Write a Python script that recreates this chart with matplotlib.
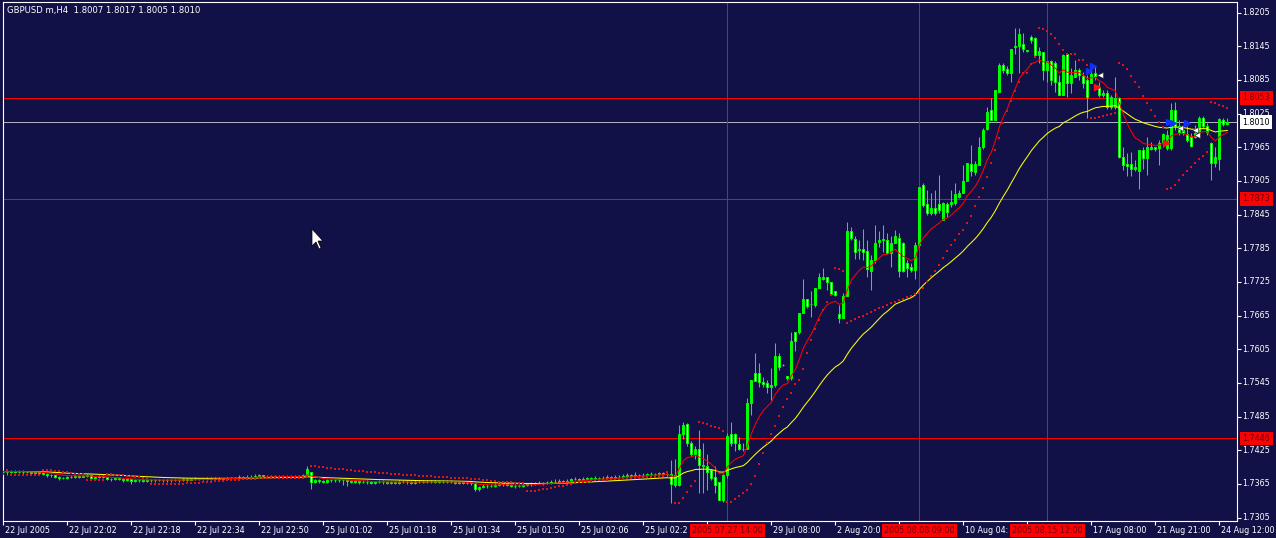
import numpy as np
import pandas as pd
import matplotlib
matplotlib.use('Agg')
import matplotlib.pyplot as plt
from matplotlib.patches import Polygon
from matplotlib.transforms import IdentityTransform

BG = '#111147'
LIME = '#00ff00'
FONT = 'DejaVu Sans'
FS = 5.8

# GBPUSD H4 bars (index 0 = leftmost bar)
opens = [
    1.7386, 1.7387, 1.7386, 1.7388, 1.7387, 1.7386, 1.7387, 1.7386, 1.7385, 1.7386,
    1.7385, 1.7383, 1.7381, 1.7380, 1.7378, 1.7376, 1.7375, 1.7377, 1.7378, 1.7379,
    1.7378, 1.7379, 1.7380, 1.7376, 1.7377, 1.7379, 1.7377, 1.7374, 1.7373, 1.7375,
    1.7374, 1.7372, 1.7373, 1.7370, 1.7371, 1.7372, 1.7370, 1.7371, 1.7372, 1.7371,
    1.7372, 1.7371, 1.7372, 1.7371, 1.7372, 1.7371, 1.7373, 1.7372, 1.7373, 1.7374,
    1.7373, 1.7374, 1.7374, 1.7375, 1.7374, 1.7375, 1.7374, 1.7375, 1.7376, 1.7375,
    1.7377, 1.7376, 1.7378, 1.7377, 1.7379, 1.7380, 1.7378, 1.7378, 1.7379, 1.7378,
    1.7378, 1.7379, 1.7378, 1.7379, 1.7378, 1.7379, 1.7380, 1.7386, 1.7369, 1.7371,
    1.7370, 1.7368, 1.7371, 1.7372, 1.7371, 1.7372, 1.7371, 1.7370, 1.7369, 1.7370,
    1.7368, 1.7369, 1.7368, 1.7367, 1.7368, 1.7369, 1.7368, 1.7367, 1.7368, 1.7367,
    1.7368, 1.7369, 1.7368, 1.7367, 1.7368, 1.7369, 1.7369, 1.7368, 1.7369, 1.7370,
    1.7369, 1.7368, 1.7369, 1.7368, 1.7367, 1.7368, 1.7367, 1.7366, 1.7366, 1.7355,
    1.7360, 1.7362, 1.7361, 1.7362, 1.7363, 1.7364, 1.7366, 1.7363, 1.7362, 1.7361,
    1.7362, 1.7363, 1.7364, 1.7365, 1.7366, 1.7367, 1.7366, 1.7367, 1.7368, 1.7369,
    1.7370, 1.7369, 1.7370, 1.7373, 1.7374, 1.7372, 1.7374, 1.7375, 1.7374, 1.7376,
    1.7375, 1.7376, 1.7377, 1.7376, 1.7377, 1.7378, 1.7379, 1.7380, 1.7379, 1.7381,
    1.7380, 1.7381, 1.7382, 1.7383, 1.7382, 1.7384, 1.7383,
    1.7382, 1.7363, 1.7363, 1.7453, 1.7472, 1.7437, 1.7419, 1.7427, 1.7399, 1.7396,
    1.7389, 1.7378, 1.7369, 1.7337, 1.7380, 1.7453, 1.7453, 1.7436, 1.7427, 1.7428,
    1.7510, 1.7562, 1.7562, 1.7547, 1.7544, 1.7537, 1.7541, 1.7593, 1.7577, 1.7557,
    1.7553, 1.7636, 1.7635, 1.7669, 1.7695, 1.7686, 1.7684, 1.7715, 1.7731, 1.7733,
    1.7725, 1.7708, 1.7668, 1.7660, 1.7699, 1.7815, 1.7801, 1.7781, 1.7783, 1.7780,
    1.7745, 1.7764, 1.7797, 1.7799, 1.7799, 1.7776, 1.7795, 1.7804, 1.7794, 1.7759,
    1.7751, 1.7746, 1.7790, 1.7897, 1.7864, 1.7847, 1.7856, 1.7864, 1.7836, 1.7864,
    1.7864, 1.7865, 1.7877, 1.7883, 1.7905, 1.7935, 1.7920, 1.7934, 1.7965, 1.7997,
    1.8031, 1.8014, 1.8064, 1.8112, 1.8104, 1.8098, 1.8145, 1.8145, 1.8149, 1.8138,
    1.8161, 1.8159, 1.8129, 1.8134, 1.8103, 1.8118, 1.8116, 1.8082, 1.8058, 1.8132,
    1.8079, 1.8091, 1.8103, 1.8092, 1.8085, 1.8080, 1.8097, 1.8073, 1.8058, 1.8061,
    1.8037, 1.8036, 1.8052, 1.7947, 1.7935, 1.7935, 1.7926, 1.7922, 1.7960, 1.7945,
    1.7961, 1.7965, 1.7963, 1.7972, 1.7963, 1.7963, 1.8031, 1.8002, 1.7996, 1.7989,
    1.7984, 1.7984, 1.7990, 1.8017, 1.8003, 1.7972, 1.7937, 1.7944, 1.8014, 1.8007,
]

highs = [
    1.7389, 1.7389, 1.7390, 1.7389, 1.7389, 1.7390, 1.7388, 1.7388, 1.7388, 1.7387,
    1.7386, 1.7384, 1.7383, 1.7381, 1.7379, 1.7378, 1.7379, 1.7380, 1.7381, 1.7381,
    1.7381, 1.7382, 1.7381, 1.7379, 1.7381, 1.7380, 1.7378, 1.7376, 1.7377, 1.7376,
    1.7375, 1.7375, 1.7374, 1.7373, 1.7374, 1.7373, 1.7373, 1.7374, 1.7373, 1.7374,
    1.7373, 1.7374, 1.7373, 1.7374, 1.7373, 1.7375, 1.7375, 1.7375, 1.7378, 1.7376,
    1.7376, 1.7377, 1.7377, 1.7377, 1.7378, 1.7376, 1.7377, 1.7378, 1.7378, 1.7380,
    1.7379, 1.7380, 1.7380, 1.7382, 1.7383, 1.7381, 1.7380, 1.7381, 1.7380, 1.7380,
    1.7381, 1.7380, 1.7381, 1.7380, 1.7381, 1.7382, 1.7396, 1.7387, 1.7374, 1.7373,
    1.7372, 1.7373, 1.7374, 1.7374, 1.7374, 1.7373, 1.7373, 1.7372, 1.7372, 1.7371,
    1.7371, 1.7371, 1.7370, 1.7370, 1.7372, 1.7371, 1.7370, 1.7370, 1.7370, 1.7371,
    1.7371, 1.7371, 1.7370, 1.7371, 1.7372, 1.7371, 1.7371, 1.7372, 1.7372, 1.7372,
    1.7371, 1.7371, 1.7371, 1.7370, 1.7370, 1.7370, 1.7369, 1.7368, 1.7367, 1.7362,
    1.7364, 1.7364, 1.7365, 1.7366, 1.7367, 1.7368, 1.7367, 1.7365, 1.7364, 1.7365,
    1.7366, 1.7367, 1.7368, 1.7369, 1.7370, 1.7369, 1.7370, 1.7371, 1.7373, 1.7373,
    1.7372, 1.7373, 1.7375, 1.7377, 1.7375, 1.7378, 1.7378, 1.7377, 1.7379, 1.7378,
    1.7379, 1.7380, 1.7379, 1.7380, 1.7381, 1.7383, 1.7384, 1.7382, 1.7386, 1.7383,
    1.7385, 1.7385, 1.7387, 1.7385, 1.7387, 1.7386, 1.7385,
    1.7408, 1.7409, 1.7470, 1.7476, 1.7473, 1.7441, 1.7432, 1.7461, 1.7437, 1.7419,
    1.7392, 1.7396, 1.7369, 1.7382, 1.7455, 1.7475, 1.7455, 1.7449, 1.7437, 1.7518,
    1.7551, 1.7598, 1.7580, 1.7556, 1.7550, 1.7571, 1.7616, 1.7598, 1.7578, 1.7557,
    1.7636, 1.7636, 1.7669, 1.7731, 1.7695, 1.7708, 1.7715, 1.7740, 1.7749, 1.7733,
    1.7725, 1.7708, 1.7684, 1.7705, 1.7831, 1.7823, 1.7806, 1.7800, 1.7820, 1.7800,
    1.7773, 1.7826, 1.7816, 1.7826, 1.7812, 1.7806, 1.7818, 1.7812, 1.7797, 1.7764,
    1.7758, 1.7797, 1.7895, 1.7901, 1.7889, 1.7883, 1.7889, 1.7916, 1.7868, 1.7868,
    1.7889, 1.7901, 1.7889, 1.7934, 1.7937, 1.7969, 1.7940, 1.7984, 1.7999, 1.8037,
    1.8052, 1.8067, 1.8115, 1.8115, 1.8109, 1.8141, 1.8177, 1.8177, 1.8168, 1.8138,
    1.8165, 1.8162, 1.8144, 1.8135, 1.8118, 1.8121, 1.8118, 1.8094, 1.8132, 1.8132,
    1.8106, 1.8121, 1.8106, 1.8100, 1.8094, 1.8115, 1.8109, 1.8082, 1.8067, 1.8067,
    1.8058, 1.8091, 1.8055, 1.7966, 1.7954, 1.7957, 1.7942, 1.7960, 1.7966, 1.7984,
    1.7975, 1.7966, 1.7978, 1.7990, 1.7996, 1.8043, 1.8046, 1.8014, 1.8002, 1.8002,
    1.7990, 1.8005, 1.8020, 1.8020, 1.8008, 1.7975, 1.7966, 1.8017, 1.8017, 1.8017,
]

lows = [
    1.7383, 1.7380, 1.7384, 1.7385, 1.7384, 1.7383, 1.7384, 1.7382, 1.7383, 1.7383,
    1.7381, 1.7377, 1.7378, 1.7375, 1.7372, 1.7373, 1.7373, 1.7375, 1.7376, 1.7376,
    1.7377, 1.7377, 1.7374, 1.7374, 1.7376, 1.7375, 1.7371, 1.7370, 1.7371, 1.7372,
    1.7369, 1.7370, 1.7364, 1.7368, 1.7369, 1.7368, 1.7368, 1.7369, 1.7369, 1.7370,
    1.7369, 1.7369, 1.7369, 1.7370, 1.7369, 1.7370, 1.7370, 1.7371, 1.7371, 1.7371,
    1.7371, 1.7372, 1.7372, 1.7372, 1.7373, 1.7372, 1.7373, 1.7373, 1.7373, 1.7373,
    1.7374, 1.7375, 1.7375, 1.7376, 1.7377, 1.7376, 1.7376, 1.7377, 1.7376, 1.7376,
    1.7377, 1.7376, 1.7377, 1.7376, 1.7377, 1.7378, 1.7380, 1.7356, 1.7366, 1.7366,
    1.7366, 1.7366, 1.7369, 1.7369, 1.7369, 1.7363, 1.7361, 1.7367, 1.7367, 1.7365,
    1.7366, 1.7365, 1.7364, 1.7365, 1.7366, 1.7365, 1.7364, 1.7365, 1.7364, 1.7365,
    1.7366, 1.7365, 1.7364, 1.7365, 1.7366, 1.7367, 1.7366, 1.7366, 1.7367, 1.7367,
    1.7366, 1.7366, 1.7366, 1.7365, 1.7365, 1.7364, 1.7364, 1.7363, 1.7352, 1.7353,
    1.7357, 1.7358, 1.7359, 1.7360, 1.7361, 1.7362, 1.7361, 1.7359, 1.7358, 1.7359,
    1.7360, 1.7361, 1.7362, 1.7363, 1.7364, 1.7363, 1.7364, 1.7365, 1.7366, 1.7367,
    1.7366, 1.7367, 1.7368, 1.7371, 1.7369, 1.7370, 1.7372, 1.7371, 1.7372, 1.7372,
    1.7373, 1.7374, 1.7373, 1.7374, 1.7375, 1.7376, 1.7377, 1.7376, 1.7377, 1.7377,
    1.7378, 1.7378, 1.7380, 1.7379, 1.7380, 1.7380, 1.7379,
    1.7331, 1.7360, 1.7362, 1.7445, 1.7432, 1.7415, 1.7410, 1.7348, 1.7348, 1.7354,
    1.7372, 1.7348, 1.7336, 1.7333, 1.7376, 1.7432, 1.7423, 1.7426, 1.7423, 1.7428,
    1.7488, 1.7549, 1.7538, 1.7538, 1.7527, 1.7515, 1.7538, 1.7568, 1.7575, 1.7550,
    1.7550, 1.7601, 1.7633, 1.7669, 1.7678, 1.7663, 1.7681, 1.7715, 1.7728, 1.7711,
    1.7702, 1.7699, 1.7651, 1.7660, 1.7699, 1.7800, 1.7765, 1.7765, 1.7764, 1.7734,
    1.7711, 1.7758, 1.7788, 1.7778, 1.7775, 1.7752, 1.7794, 1.7734, 1.7743, 1.7734,
    1.7743, 1.7731, 1.7788, 1.7859, 1.7844, 1.7845, 1.7845, 1.7847, 1.7835, 1.7841,
    1.7859, 1.7862, 1.7875, 1.7883, 1.7904, 1.7913, 1.7915, 1.7934, 1.7961, 1.7996,
    1.8014, 1.8014, 1.8064, 1.8097, 1.8094, 1.8082, 1.8132, 1.8097, 1.8135, 1.8135,
    1.8150, 1.8126, 1.8115, 1.8085, 1.8082, 1.8076, 1.8064, 1.8058, 1.8058, 1.8055,
    1.8061, 1.8091, 1.8085, 1.8070, 1.8017, 1.8079, 1.8085, 1.8055, 1.8055, 1.8034,
    1.8034, 1.8034, 1.7945, 1.7925, 1.7913, 1.7913, 1.7922, 1.7890, 1.7927, 1.7916,
    1.7960, 1.7959, 1.7934, 1.7966, 1.7960, 1.7960, 1.7996, 1.7987, 1.7987, 1.7975,
    1.7966, 1.7981, 1.7987, 1.7999, 1.7987, 1.7907, 1.7930, 1.7925, 1.8003, 1.8005,
]

closes = [
    1.7387, 1.7386, 1.7388, 1.7387, 1.7386, 1.7387, 1.7386, 1.7385, 1.7386, 1.7385,
    1.7383, 1.7381, 1.7380, 1.7378, 1.7376, 1.7375, 1.7377, 1.7378, 1.7379, 1.7378,
    1.7379, 1.7380, 1.7376, 1.7377, 1.7379, 1.7377, 1.7374, 1.7373, 1.7375, 1.7374,
    1.7372, 1.7373, 1.7370, 1.7371, 1.7372, 1.7370, 1.7371, 1.7372, 1.7371, 1.7372,
    1.7371, 1.7372, 1.7371, 1.7372, 1.7371, 1.7373, 1.7372, 1.7373, 1.7374, 1.7373,
    1.7374, 1.7374, 1.7375, 1.7374, 1.7375, 1.7374, 1.7375, 1.7376, 1.7375, 1.7377,
    1.7376, 1.7378, 1.7377, 1.7379, 1.7380, 1.7378, 1.7378, 1.7379, 1.7378, 1.7378,
    1.7379, 1.7378, 1.7379, 1.7378, 1.7379, 1.7380, 1.7392, 1.7369, 1.7371, 1.7370,
    1.7368, 1.7371, 1.7372, 1.7371, 1.7372, 1.7371, 1.7370, 1.7369, 1.7370, 1.7368,
    1.7369, 1.7368, 1.7367, 1.7368, 1.7369, 1.7368, 1.7367, 1.7368, 1.7367, 1.7368,
    1.7369, 1.7368, 1.7367, 1.7368, 1.7369, 1.7369, 1.7368, 1.7369, 1.7370, 1.7369,
    1.7368, 1.7369, 1.7368, 1.7367, 1.7368, 1.7367, 1.7366, 1.7366, 1.7355, 1.7360,
    1.7362, 1.7361, 1.7362, 1.7363, 1.7364, 1.7366, 1.7363, 1.7362, 1.7361, 1.7362,
    1.7363, 1.7364, 1.7365, 1.7366, 1.7367, 1.7366, 1.7367, 1.7368, 1.7369, 1.7370,
    1.7369, 1.7370, 1.7373, 1.7374, 1.7372, 1.7374, 1.7375, 1.7374, 1.7376, 1.7375,
    1.7376, 1.7377, 1.7376, 1.7377, 1.7378, 1.7379, 1.7380, 1.7379, 1.7381, 1.7380,
    1.7381, 1.7382, 1.7383, 1.7382, 1.7384, 1.7383, 1.7382,
    1.7365, 1.7380, 1.7453, 1.7470, 1.7437, 1.7419, 1.7428, 1.7399, 1.7396, 1.7387,
    1.7375, 1.7363, 1.7337, 1.7381, 1.7450, 1.7438, 1.7437, 1.7427, 1.7428, 1.7509,
    1.7551, 1.7549, 1.7547, 1.7543, 1.7537, 1.7541, 1.7593, 1.7574, 1.7576, 1.7553,
    1.7619, 1.7619, 1.7669, 1.7695, 1.7682, 1.7685, 1.7715, 1.7733, 1.7733, 1.7725,
    1.7704, 1.7701, 1.7660, 1.7700, 1.7815, 1.7804, 1.7779, 1.7783, 1.7779, 1.7748,
    1.7764, 1.7795, 1.7799, 1.7801, 1.7776, 1.7795, 1.7806, 1.7745, 1.7745, 1.7749,
    1.7746, 1.7790, 1.7894, 1.7862, 1.7847, 1.7856, 1.7847, 1.7854, 1.7866, 1.7850,
    1.7868, 1.7882, 1.7883, 1.7904, 1.7937, 1.7922, 1.7935, 1.7966, 1.7996, 1.8028,
    1.8014, 1.8067, 1.8112, 1.8103, 1.8098, 1.8141, 1.8144, 1.8167, 1.8140, 1.8137,
    1.8157, 1.8129, 1.8137, 1.8103, 1.8118, 1.8085, 1.8082, 1.8058, 1.8129, 1.8079,
    1.8094, 1.8103, 1.8094, 1.8079, 1.8055, 1.8096, 1.8092, 1.8058, 1.8062, 1.8036,
    1.8055, 1.8052, 1.7947, 1.7934, 1.7932, 1.7927, 1.7930, 1.7960, 1.7945, 1.7966,
    1.7966, 1.7961, 1.7972, 1.7988, 1.7987, 1.8031, 1.8002, 1.7993, 1.7990, 1.7978,
    1.7967, 1.7990, 1.8017, 1.8003, 1.7993, 1.7937, 1.7947, 1.8015, 1.8007, 1.8010,
]

# time axis; labels partly hidden behind the red time boxes are cut as in the screenshot
tick_bars = [0, 16, 32, 48, 64, 80, 96, 112, 128, 144,
             160, 176, 192, 208, 224, 240, 256, 272, 288, 304]
tick_labels = ['22 Jul 2005', '22 Jul 22:02', '22 Jul 22:18', '22 Jul 22:34',
               '22 Jul 22:50', '25 Jul 01:02', '25 Jul 01:18', '25 Jul 01:34',
               '25 Jul 01:50', '25 Jul 02:06', '25 Jul 02:2', '',
               '29 Jul 08:00', '2 Aug 20:0', '', '10 Aug 04:',
               '', '17 Aug 08:00', '21 Aug 21:00', '24 Aug 12:00']

price_ticks = [1.7305, 1.7365, 1.7425, 1.7485, 1.7545, 1.7605, 1.7665, 1.7725,
               1.7785, 1.7845, 1.7905, 1.7965, 1.8025, 1.8085, 1.8145, 1.8205]

# chart objects
level_prices = [1.8053, 1.7873, 1.7446]
bid_price = 1.8010
marker_bars = [181, 229, 261]
marker_times = ['2005.07.27 14:00', '2005.08.08 09:00', '2005.08.15 12:00']

# trade arrows (bar position, price)
buy_x = [271.3, 272.4, 291.4, 292.4, 295.8]
buy_y = [1.8101, 1.8110, 1.8010, 1.8008, 1.8008]
close_x = [274.1, 294.2, 297.9, 298.3]
close_y = [1.8094, 1.7999, 1.7996, 1.7986]
sell_x = [273.4, 290.6]
sell_y = [1.8072, 1.7972]


def parabolic_sar(high, low, step=0.02, max_step=0.2):
    n = len(high)
    sar = np.zeros(n)
    up = True
    af = step
    ep = high[0]
    sar[0] = low[0]
    for i in range(1, n):
        s = sar[i - 1] + af * (ep - sar[i - 1])
        if up:
            s = min(s, low[i - 1], low[max(i - 2, 0)])
            if low[i] < s:
                up = False
                s = ep
                ep = low[i]
                af = step
            elif high[i] > ep:
                ep = high[i]
                af = min(af + step, max_step)
        else:
            s = max(s, high[i - 1], high[max(i - 2, 0)])
            if high[i] > s:
                up = True
                s = ep
                ep = high[i]
                af = step
            elif low[i] < ep:
                ep = low[i]
                af = min(af + step, max_step)
        sar[i] = s
    return sar


o = np.array(opens)
h = np.array(highs)
l = np.array(lows)
c = np.array(closes)
x = np.arange(len(c))

ma_fast = pd.Series(c).ewm(span=10, adjust=False).mean()
ma_slow = pd.Series(c).ewm(span=38, adjust=False).mean()
sar = parabolic_sar(h, l)

W, H = 1276, 538
fig = plt.figure(figsize=(W / 100, H / 100), dpi=100, facecolor=BG)
ax = fig.add_axes([3 / W, 17.5 / H, 1233.5 / W, 518.5 / H])
ax.set_facecolor(BG)

# level lines, drawn 1px and crisp like the terminal does
for p in level_prices:
    ax.axhline(p, color='#ff0000', lw=0.72, zorder=1, antialiased=False, snap=True)
ax.axhline(bid_price, color='#b0b0c0', lw=0.72, zorder=1, antialiased=False, snap=True)
for b in marker_bars:
    ax.axvline(b, color='#ff0000', lw=0.72, zorder=1, antialiased=False, snap=True)

# candles
bull = c > o
bear = c < o
doji = c == o
ax.vlines(x, l, h, color=LIME, lw=0.75, zorder=3)
bottom = np.minimum(o, c)
height = np.abs(c - o)
ax.bar(x[bull], height[bull], bottom=bottom[bull], width=0.5,
       color=LIME, edgecolor=LIME, lw=0.7, zorder=4)
ax.bar(x[bear], height[bear], bottom=bottom[bear], width=0.5,
       color='white', edgecolor=LIME, lw=0.7, zorder=4)
ax.hlines(c[doji], x[doji] - 0.4, x[doji] + 0.4, color=LIME, lw=0.75, zorder=4)

# indicators
ax.plot(x, ma_slow, color='#ffff00', lw=0.75, zorder=5)
ax.plot(x, ma_fast, color='#ff0000', lw=0.75, zorder=5)
ax.plot(x, sar, ls='none', marker='s', ms=1.5, mew=0, color='#d81818', zorder=6)

# trade arrows
ax.plot(buy_x, buy_y, ls='none', marker='>', ms=5, color='#1030ff', zorder=7)
ax.plot(sell_x, sell_y, ls='none', marker='>', ms=5, color='#ff1010', zorder=7)
ax.plot(close_x, close_y, ls='none', marker='<', ms=5, color='white',
        mec='#202020', mew=0.4, zorder=7)

ax.set_xlim(-0.075, 308.3)
ax.set_ylim(1.72997, 1.82239)

for side in ['left', 'right', 'top', 'bottom']:
    ax.spines[side].set_color('white')
    ax.spines[side].set_linewidth(0.8)

ax.yaxis.tick_right()
ax.set_yticks(price_ticks)
ax.set_yticklabels([])
ax.set_xticks(tick_bars)
ax.set_xticklabels([])
ax.tick_params(colors='white', length=3, width=0.8, direction='out')

for p in price_ticks:
    ax.annotate('%.4f' % p, xy=(1, p), xycoords=('axes fraction', 'data'),
                xytext=(6, 0), textcoords='offset pixels', ha='left', va='center',
                color='white', fontsize=FS, family=FONT, annotation_clip=False)

for b, lab in zip(tick_bars, tick_labels):
    if lab:
        ax.annotate(lab, xy=(b, 0), xycoords=('data', 'axes fraction'),
                    xytext=(2, -10), textcoords='offset pixels', ha='left', va='center',
                    color='white', fontsize=FS, family=FONT, annotation_clip=False)

# price boxes on the right
for p in level_prices:
    ax.annotate('%.4f' % p, xy=(1, p), xycoords=('axes fraction', 'data'),
                xytext=(6, 0), textcoords='offset pixels', ha='left', va='center',
                color='#700010', fontsize=FS, family=FONT, annotation_clip=False,
                bbox=dict(boxstyle='square,pad=0.3', fc='#ff0000', ec='none'), zorder=10)
ax.annotate('%.4f' % bid_price, xy=(1, bid_price), xycoords=('axes fraction', 'data'),
            xytext=(6, 0), textcoords='offset pixels', ha='left', va='center',
            color='black', fontsize=FS, family=FONT, annotation_clip=False,
            bbox=dict(boxstyle='square,pad=0.3', fc='white', ec='none'), zorder=10)

# time boxes at the bottom
for b, lab in zip(marker_bars, marker_times):
    ax.annotate(lab, xy=(b, 0), xycoords=('data', 'axes fraction'),
                xytext=(0, -10), textcoords='offset pixels', ha='center', va='center',
                color='#700010', fontsize=FS, family=FONT, annotation_clip=False,
                bbox=dict(boxstyle='square,pad=0.3', fc='#ff0000', ec='none'), zorder=10)

fig.text(7 / W, 1 - 11 / H, 'GBPUSD m,H4  1.8007 1.8017 1.8005 1.8010',
         color='white', fontsize=6.1, family=FONT, va='center', ha='left')

# mouse pointer
cursor = [(312, 229), (312, 246), (316, 242), (319, 249), (321, 248), (318, 241), (323, 241)]
fig.add_artist(Polygon([(px, H - py) for px, py in cursor], closed=True,
                       fc='white', ec='black', lw=0.5, transform=IdentityTransform()))

fig.savefig('out.png', dpi=100, facecolor=BG)
